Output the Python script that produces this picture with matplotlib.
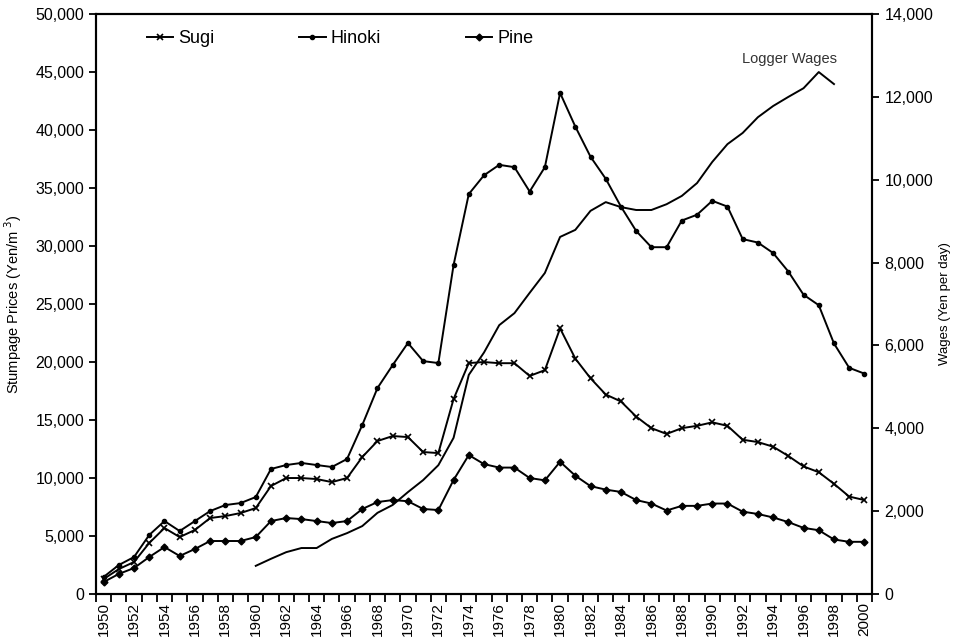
import numpy as np
import matplotlib
matplotlib.use("Agg")
import matplotlib.pyplot as plt
from matplotlib.ticker import FuncFormatter, FixedLocator

plt.rcParams['font.family'] = ['Liberation Sans', 'DejaVu Sans']

# 値は図から読み取り
years = list(range(1950, 2001))

sugi = [1290, 2150, 2760, 4400, 5690, 4910, 5520, 6550, 6720, 6980,
        7410, 9310, 10000, 10000, 9910, 9650, 10000, 11810, 13190, 13620,
        13530, 12240, 12150, 16810, 19910, 20000, 19900, 19900, 18800, 19300,
        22900, 20300, 18600, 17200, 16600, 15300, 14300, 13800, 14300, 14500,
        14800, 14500, 13300, 13100, 12700, 11900, 11000, 10500, 9500, 8400,
        8100]

hinoki = [1470, 2500, 3190, 5090, 6290, 5430, 6290, 7150, 7670, 7840,
          8360, 10780, 11120, 11300, 11120, 10950, 11640, 14570, 17760, 19740,
          21640, 20080, 19910, 28360, 34480, 36100, 37000, 36800, 34700, 36800,
          43200, 40300, 37700, 35800, 33400, 31300, 29900, 29900, 32200, 32700,
          33900, 33400, 30600, 30300, 29400, 27800, 25800, 24900, 21600, 19500,
          19000]

pine = [1030, 1730, 2240, 3190, 4050, 3280, 3880, 4570, 4570, 4570,
        4910, 6290, 6550, 6460, 6290, 6120, 6290, 7330, 7930, 8100,
        8000, 7330, 7240, 9830, 11980, 11200, 10900, 10900, 10000, 9800,
        11400, 10200, 9300, 9000, 8800, 8100, 7800, 7200, 7600, 7600,
        7800, 7800, 7100, 6900, 6600, 6200, 5700, 5500, 4700, 4500,
        4500]

# 賃金 1960-1998
wage_years = list(range(1960, 1999))
wages = [680, 850, 1010, 1110, 1110, 1330, 1470, 1640, 1960, 2150,
         2460, 2750, 3110, 3770, 5290, 5830, 6490, 6780, 7270, 7750,
         8620, 8790, 9250, 9460, 9340, 9270, 9270, 9410, 9610, 9920,
         10430, 10860, 11130, 11510, 11780, 12000, 12210, 12600, 12310]

x = np.arange(len(years))
xw = np.array([years.index(y) for y in wage_years])

fig = plt.figure(figsize=(9.57, 6.39), dpi=100)
ax = fig.add_axes([0.1003, 0.0704, 0.8109, 0.9076])
ax2 = ax.twinx()

lw = 1.4
ax.plot(x, sugi, color='black', lw=lw, marker='x', ms=4.5, mew=1.2, label='Sugi')
ax.plot(x, hinoki, color='black', lw=lw, marker='o', ms=3, label='Hinoki')
ax.plot(x, pine, color='black', lw=lw, marker='D', ms=3.5, label='Pine')
ax2.plot(xw, wages, color='black', lw=lw)

ax.set_xlim(-0.5, len(years) - 0.5)
ax.set_ylim(0, 50000)
ax2.set_ylim(0, 14000)

ax.set_yticks(np.arange(0, 50001, 5000))
ax2.set_yticks(np.arange(0, 14001, 2000))
fmt = FuncFormatter(lambda v, p: f"{int(v):,}")
ax.yaxis.set_major_formatter(fmt)
ax2.yaxis.set_major_formatter(fmt)

# x軸: ラベルは2年ごと、目盛りはカテゴリ境界
ax.set_xticks(x[::2])
ax.set_xticklabels([str(y) for y in years[::2]], rotation=90)
ax.xaxis.set_minor_locator(FixedLocator(np.arange(-0.5, len(years), 1)))
ax.tick_params(axis='x', which='major', length=0, pad=6, labelsize=11)
ax.tick_params(axis='x', which='minor', length=6, width=1.3, direction='out')
ax.tick_params(axis='y', length=5, width=1.3, labelsize=11.5)
ax2.tick_params(axis='y', length=5, width=1.3, labelsize=11.5, pad=4)

for a in (ax, ax2):
    for s in a.spines.values():
        s.set_linewidth(1.5)

ax.set_ylabel('Stumpage Prices (Yen/m$^{\\ 3}$)', fontsize=10.5, labelpad=8)
ax2.set_ylabel('Wages (Yen per day)', fontsize=9.5, labelpad=4)

ax2.text(years.index(1998) + 0.2, 12750, 'Logger Wages', fontsize=10.5, color='#333333',
         ha='right', va='bottom')

ax.legend(ncol=3, frameon=False, loc='upper left', bbox_to_anchor=(0.0657, 0.972),
          borderaxespad=0, borderpad=0, fontsize=13, handlelength=1.45,
          handletextpad=0.28, columnspacing=4.7, numpoints=1)

fig.savefig('out.png', dpi=100)
